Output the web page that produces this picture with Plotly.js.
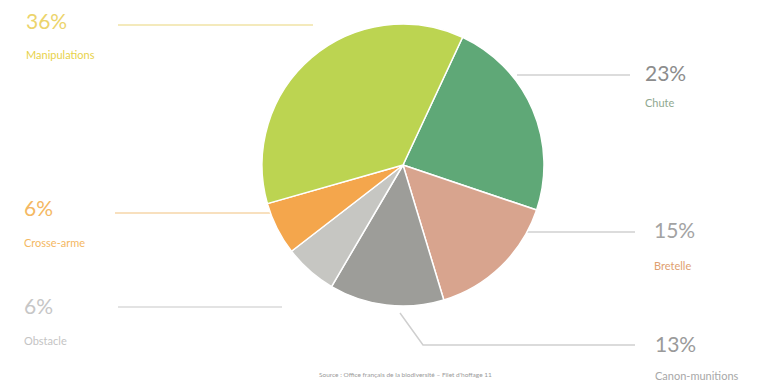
<!DOCTYPE html>
<html><head><meta charset="utf-8">
<script src="https://cdn.plot.ly/plotly-3.0.1.min.js"></script>
<style>html,body{margin:0;padding:0;background:#fff}#chart{width:780px;height:385px}</style>
</head><body><div id="chart"></div>
<script>
const categories = ["Chute", "Bretelle", "Canon-munitions", "Obstacle", "Crosse-arme", "Manipulations"];
const values = [23, 15, 13, 6, 6, 36];
const percentLabels = ["23%", "15%", "13%", "6%", "6%", "36%"];
const sourceText = "Source : Office français de la biodiversité – Filet d'hoffage 11";

const sliceColors = ["#5fa877", "#d8a48e", "#9d9d99", "#c6c6c2", "#f4a64c", "#bcd451"];
const pctColors = ["#8a8a8a", "#a0a0a0", "#9a9a9a", "#f3b861", "#c4c4c4", "#ecd36a"];
const pctColorsByCat = {"Chute":"#8c8c8c","Bretelle":"#a3a3a3","Canon-munitions":"#9a9a9a","Obstacle":"#c6c6c6","Crosse-arme":"#f4b862","Manipulations":"#ecd46c"};
const nameColorsByCat = {"Chute":"#8fa890","Bretelle":"#e0a070","Canon-munitions":"#a8a8a8","Obstacle":"#c4c4c4","Crosse-arme":"#f4b862","Manipulations":"#e8d24a"};
// label anchor positions in pixels (left x, percent y, name y)
const labelPos = {
  "Manipulations": [24, 20, 55],
  "Chute": [643, 73, 103],
  "Bretelle": [652, 229, 265],
  "Canon-munitions": [653, 343, 375],
  "Crosse-arme": [22, 208, 242],
  "Obstacle": [22, 305, 340]
};
const lineColorsByCat = {"Manipulations":"#f1e3a6","Chute":"#d0d0d0","Bretelle":"#d0d0d0","Canon-munitions":"#cfcfcf","Crosse-arme":"#f6d6a8","Obstacle":"#dadada"};
const leaderPaths = {
  "Manipulations": "M118,25 L313,25",
  "Chute": "M517,75 L630,75",
  "Bretelle": "M527,232 L635,232",
  "Canon-munitions": "M400,313 L423,345 L635,345",
  "Crosse-arme": "M115,213 L272,213",
  "Obstacle": "M118,307 L282,307"
};

const W = 780, H = 385;
const px = x => x / W, py = y => 1 - y / H;

const annotations = [];
const shapes = [];
categories.forEach((c, i) => {
  const p = labelPos[c];
  annotations.push({xref:'paper', yref:'paper', x:px(p[0]), y:py(p[1]), xanchor:'left', yanchor:'middle',
    text: percentLabels[i], showarrow:false, font:{family:'Lato, "Open Sans", sans-serif', size:21, color:pctColorsByCat[c]}});
  annotations.push({xref:'paper', yref:'paper', x:px(p[0]), y:py(p[2]), xanchor:'left', yanchor:'middle',
    text: c, showarrow:false, font:{family:'Lato, "Open Sans", sans-serif', size:11, color:nameColorsByCat[c]}});
  // leader path converted to paper coords
  const pts = leaderPaths[c].match(/[ML][^ML]+/g).map(s => {
    const [x, y] = s.slice(1).split(',').map(Number);
    return s[0] + px(x).toFixed(5) + ',' + py(y).toFixed(5);
  }).join(' ');
  shapes.push({type:'path', xref:'paper', yref:'paper', path: pts, line:{color:lineColorsByCat[c], width:1.5}, layer:'below'});
});
annotations.push({xref:'paper', yref:'paper', x:px(405), y:py(374), xanchor:'center', yanchor:'middle',
  text: sourceText, showarrow:false, font:{family:'Lato, sans-serif', size:6.5, color:'#9a9a9a'}});

const cx = 403, cy = 165, r = 141;
const trace = {
  type:'pie', labels:categories, values:values, sort:false, direction:'clockwise', rotation:25,
  marker:{colors:sliceColors, line:{color:'#ffffff', width:1.5}},
  textinfo:'none', hoverinfo:'label+percent', showlegend:false,
  domain:{x:[px(cx - r), px(cx + r)], y:[py(cy + r), py(cy - r)]}
};
Plotly.newPlot('chart', [trace], {
  width:W, height:H, margin:{l:0, r:0, t:0, b:0},
  paper_bgcolor:'#ffffff', plot_bgcolor:'#ffffff',
  annotations:annotations, shapes:shapes, showlegend:false
}, {displayModeBar:false, staticPlot:true});
</script></body></html>
